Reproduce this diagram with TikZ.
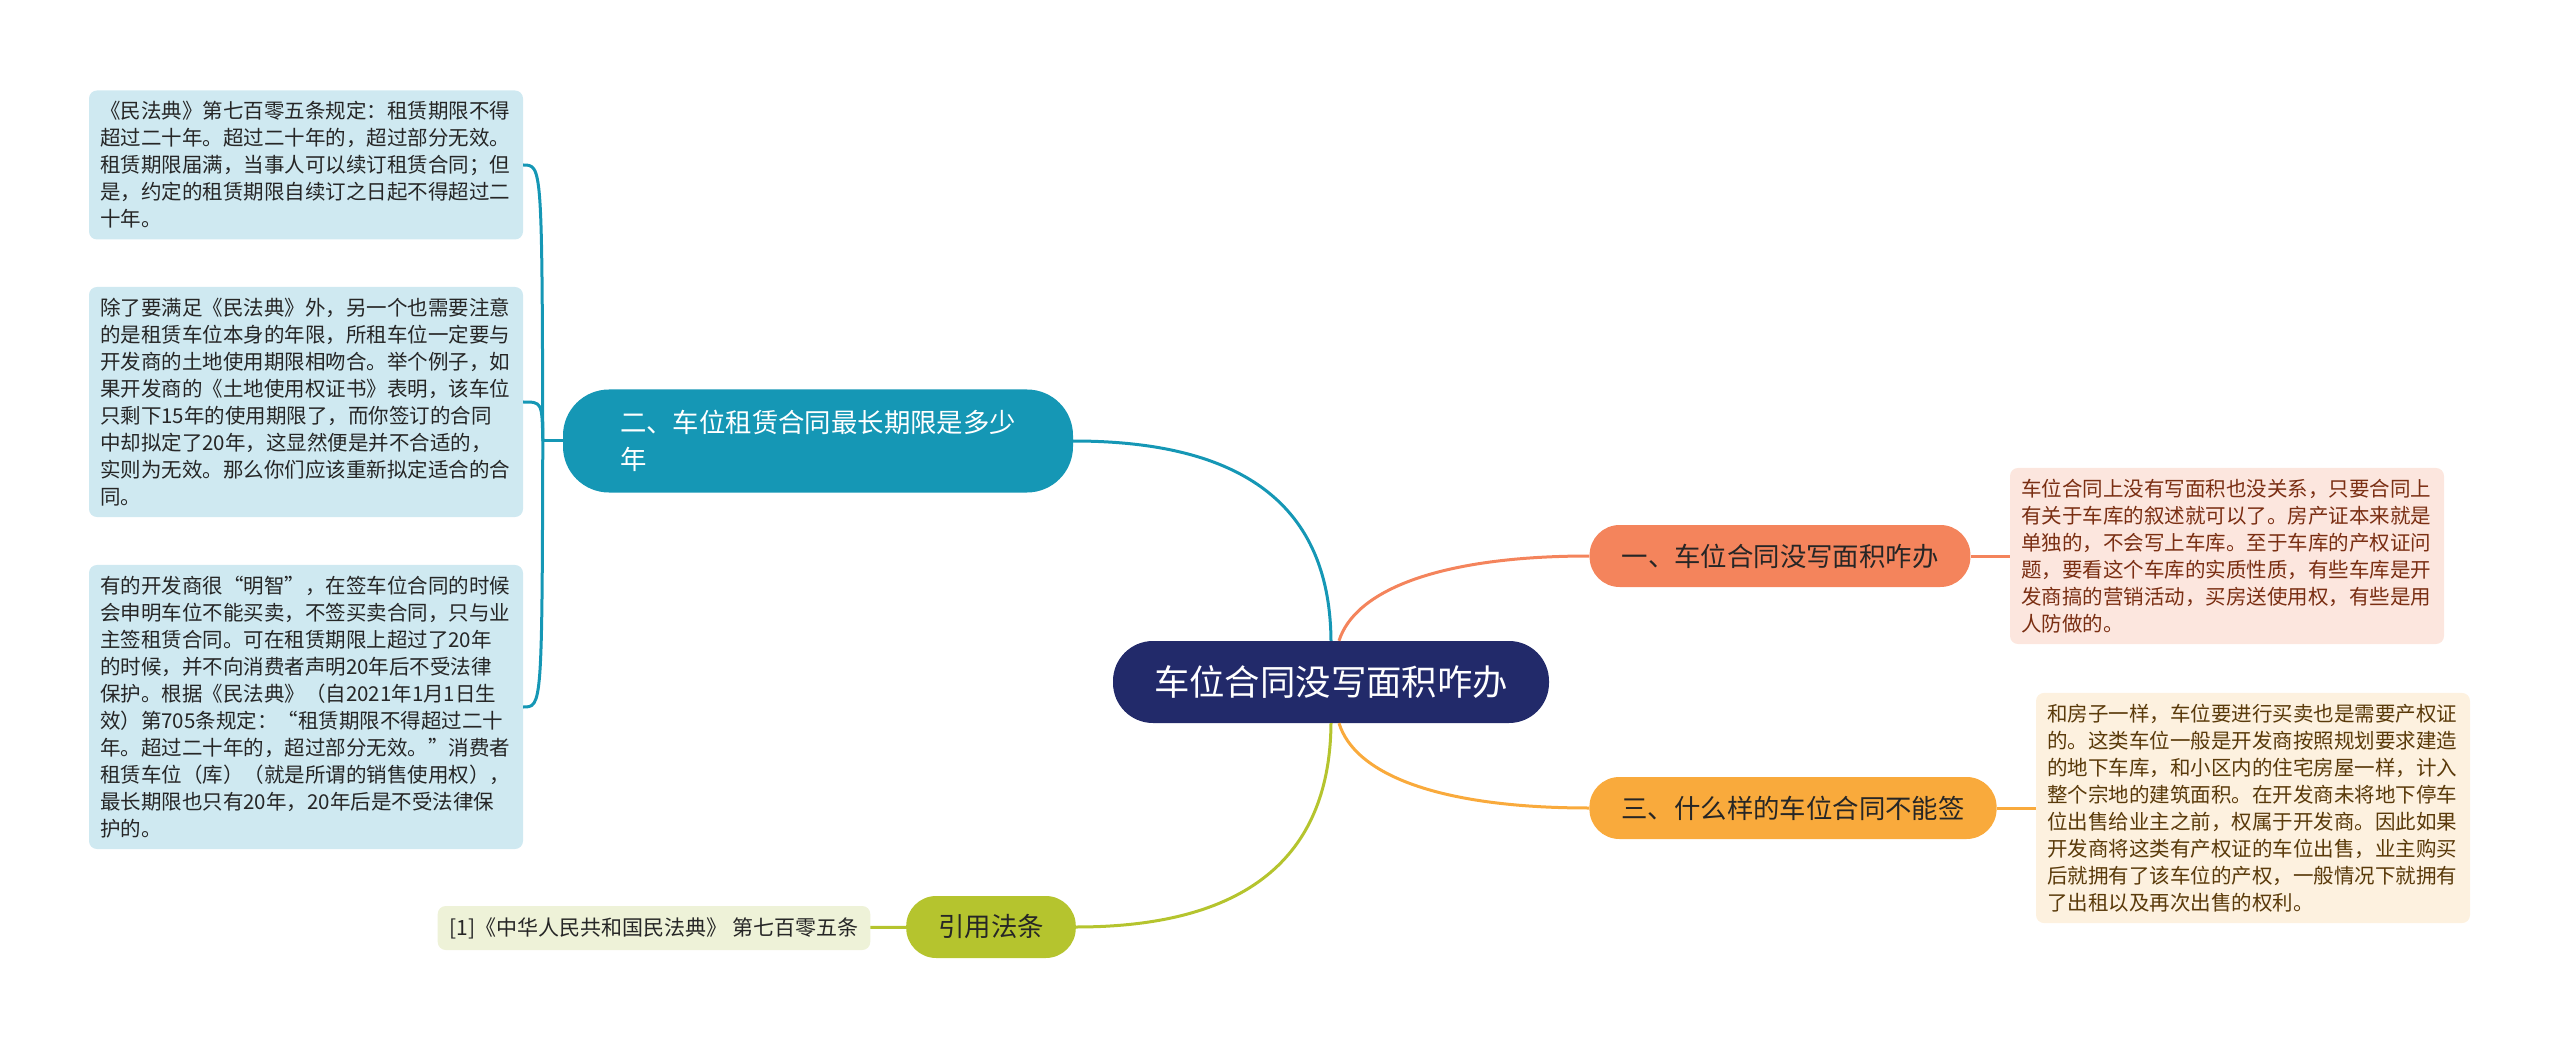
\documentclass[tikz,border=0pt]{standalone}
\usepackage{fontspec}
\newfontfamily\cjk{Noto Sans CJK SC}
\definecolor{rootblue}{HTML}{222A6A}
\definecolor{tealbr}{HTML}{1597B5}
\definecolor{tealbox}{HTML}{CFE9F1}
\definecolor{coral}{HTML}{F4845C}
\definecolor{coralbox}{HTML}{FCE6DE}
\definecolor{coraltext}{HTML}{7A2E12}
\definecolor{amber}{HTML}{F9AA3C}
\definecolor{amberbox}{HTML}{FDF1DF}
\definecolor{ambertext}{HTML}{5A3A0A}
\definecolor{olive}{HTML}{B5C42E}
\definecolor{olivebox}{HTML}{EEF2D8}
\begin{document}
\begin{tikzpicture}[x=1pt,y=-1pt,
  root/.style={fill=rootblue,text=white,rounded corners=40pt,inner xsep=41pt,
    minimum height=82pt,font=\cjk\fontsize{35.4}{40}\selectfont},
  branch/.style={rounded corners=30pt,inner xsep=32pt,minimum height=62pt,
    text=black!85,font=\cjk\fontsize{26.4}{36.5}\selectfont},
  note/.style={rounded corners=8pt,inner xsep=11pt,inner ysep=11pt,text width=412pt,
    align=left,text=black!85,font=\cjk\fontsize{20.5}{27}\selectfont},
  link/.style={line width=3pt}]
\useasboundingbox (0,0) rectangle (2560,1048);

\node[root] (root) at (1331,682) {车位合同没写面积咋办};

\node[branch,fill=tealbr,text=white,align=left,rounded corners=46pt,inner xsep=57pt,
  minimum height=103pt] (two) at (818,441) {二、车位租赁合同最长期限是多少\\年};
\node[branch,fill=coral] (one) at (1780,556) {一、车位合同没写面积咋办};
\node[branch,fill=amber] (three) at (1793,808) {三、什么样的车位合同不能签};
\node[branch,fill=olive] (cite) at (991,927) {引用法条};

\node[note,fill=tealbox] (lawa) at (306,165) {《民法典》第七百零五条规定：租赁期限不得\\超过二十年。超过二十年的，超过部分无效。\\租赁期限届满，当事人可以续订租赁合同；但\\是，约定的租赁期限自续订之日起不得超过二\\十年。};
\node[note,fill=tealbox] (lawb) at (306,402) {除了要满足《民法典》外，另一个也需要注意\\的是租赁车位本身的年限，所租车位一定要与\\开发商的土地使用期限相吻合。举个例子，如\\果开发商的《土地使用权证书》表明，该车位\\只剩下15年的使用期限了，而你签订的合同\\中却拟定了20年，这显然便是并不合适的，\\实则为无效。那么你们应该重新拟定适合的合\\同。};
\node[note,fill=tealbox] (lawc) at (306,707) {有的开发商很“明智”，在签车位合同的时候\\会申明车位不能买卖，不签买卖合同，只与业\\主签租赁合同。可在租赁期限上超过了20年\\的时候，并不向消费者声明20年后不受法律\\保护。根据《民法典》（自2021年1月1日生\\效）第705条规定：“租赁期限不得超过二十\\年。超过二十年的，超过部分无效。”消费者\\租赁车位（库）（就是所谓的销售使用权），\\最长期限也只有20年，20年后是不受法律保\\护的。};
\node[note,fill=coralbox,text=coraltext] (onetext) at (2227,556) {车位合同上没有写面积也没关系，只要合同上\\有关于车库的叙述就可以了。房产证本来就是\\单独的，不会写上车库。至于车库的产权证问\\题，要看这个车库的实质性质，有些车库是开\\发商搞的营销活动，买房送使用权，有些是用\\人防做的。};
\node[note,fill=amberbox,text=ambertext] (threetext) at (2253,808) {和房子一样，车位要进行买卖也是需要产权证\\的。这类车位一般是开发商按照规划要求建造\\的地下车库，和小区内的住宅房屋一样，计入\\整个宗地的建筑面积。在开发商未将地下停车\\位出售给业主之前，权属于开发商。因此如果\\开发商将这类有产权证的车位出售，业主购买\\后就拥有了该车位的产权，一般情况下就拥有\\了出租以及再次出售的权利。};
\node[note,fill=olivebox,text width=,inner xsep=12pt,minimum height=44pt,
  font=\cjk\fontsize{21}{27}\selectfont] (citetext) at (654,928) {[1]《中华人民共和国民法典》 第七百零五条};

\draw[link,tealbr] (root.north) .. controls (1330,515) and (1255,441) .. (two.east);
\draw[link,coral] ([xshift=8pt]root.north) .. controls (1355,590) and (1440,556) .. (one.west);
\draw[link,amber] ([xshift=8pt]root.south) .. controls (1355,775) and (1440,808) .. (three.west);
\draw[link,olive] (root.south) .. controls (1330,850) and (1255,927) .. (cite.east);

\draw[link,coral] (one) -- (onetext);
\draw[link,amber] (three) -- (threetext);
\draw[link,olive] (cite) -- (citetext);

\draw[link,tealbr] (two.west) -- ++(-20,0) coordinate (fork);
\draw[link,tealbr] (fork) .. controls (542,165) .. (lawa.east);
\draw[link,tealbr] (fork) .. controls (542,402) .. (lawb.east);
\draw[link,tealbr] (fork) .. controls (542,707) .. (lawc.east);
\end{tikzpicture}
\end{document}
